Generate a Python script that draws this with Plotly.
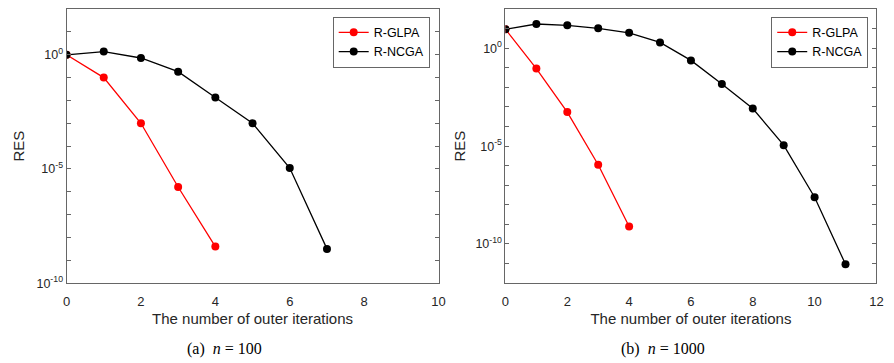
import plotly.graph_objects as go

# ---- data ----
iters_a = list(range(0, 5))
glpa_a_exp = [0.0, -1.0, -3.0, -5.79, -8.4]
iters_a_ncga = list(range(0, 8))
ncga_a_exp = [0.0, 0.14, -0.14, -0.74, -1.87, -3.0, -4.96, -8.5]

iters_b = list(range(0, 5))
glpa_b_exp = [0.97, -1.04, -3.26, -5.95, -9.11]
iters_b_ncga = list(range(0, 12))
ncga_b_exp = [0.97, 1.24, 1.17, 1.02, 0.79, 0.30, -0.62, -1.82, -3.08, -4.95, -7.61, -11.04]

glpa_a = [10 ** e for e in glpa_a_exp]
ncga_a = [10 ** e for e in ncga_a_exp]
glpa_b = [10 ** e for e in glpa_b_exp]
ncga_b = [10 ** e for e in ncga_b_exp]

series_names = ["R-GLPA", "R-NCGA"]
captions = ["(a)  <i>n</i> = 100", "(b)  <i>n</i> = 1000"]
xticks_a = [0, 2, 4, 6, 8, 10]
xticks_b = [0, 2, 4, 6, 8, 10, 12]
ylabel_exps = [-10, -5, 0]

W, H = 894, 363
AX = "#666666"
FONT = "Liberation Sans, Arial, sans-serif"

fig = go.Figure()

def add(x, y, color, name, xa, ya, legend):
    fig.add_trace(go.Scatter(
        x=x, y=y, mode="lines+markers", name=name,
        line=dict(color=color, width=1.3),
        marker=dict(color=color, size=8),
        xaxis=xa, yaxis=ya, legend=legend))

add(iters_a, glpa_a, "#ff0000", series_names[0], "x", "y", "legend")
add(iters_a_ncga, ncga_a, "#000000", series_names[1], "x", "y", "legend")
add(iters_b, glpa_b, "#ff0000", series_names[0], "x2", "y2", "legend2")
add(iters_b_ncga, ncga_b, "#000000", series_names[1], "x2", "y2", "legend2")

major_vals = [10.0 ** e for e in ylabel_exps]
major_txt = [f"10<sup>{e}</sup>" for e in ylabel_exps]

def minor_vals(lo, hi):
    return [10.0 ** e for e in range(lo, hi + 1) if e % 5 != 0]

xa_dom = [63.3 / W, 440 / W]
xb_dom = [507.7 / W, 883.3 / W]
y_dom = [1 - 288.7 / H, 1 - 9.3 / H]

common_axis = dict(showline=True, linecolor=AX, linewidth=1, mirror="ticks",
                   ticks="inside", ticklen=4, tickcolor=AX, showgrid=False,
                   zeroline=False, ticklabeloverflow="allow")
xfont = dict(family=FONT, size=13, color="#262626")
yfont = dict(family=FONT, size=12.5, color="#262626")
tfont = dict(family=FONT, size=15, color="#262626")

# x axes that carry labels (invisible outside ticks push labels down)
xlabel_axis = dict(showline=True, linecolor=AX, linewidth=1, mirror=True,
                   ticks="outside", ticklen=6, tickcolor="rgba(0,0,0,0)",
                   showgrid=False, zeroline=False, ticklabeloverflow="allow")
# overlay x axes that draw the inside ticks (bottom and top)
xtick_axis = dict(showline=False, ticks="inside", ticklen=4, tickcolor=AX, mirror="ticks",
                  showticklabels=False, showgrid=False, zeroline=False)

legend_common = dict(xanchor="right", yanchor="top",
                     bordercolor=AX, borderwidth=1, bgcolor="white",
                     font=dict(family=FONT, size=12.5, color="#000"),
                     tracegroupgap=0, itemwidth=30)

fig.update_layout(
    width=W, height=H, margin=dict(l=0, r=0, t=0, b=0),
    paper_bgcolor="white", plot_bgcolor="white",
    font=dict(family=FONT, color="#262626"),
    xaxis=dict(domain=xa_dom, range=[0, 10], tickvals=xticks_a, anchor="y",
               tickfont=xfont,
               title=dict(text="The number of outer iterations", font=tfont, standoff=5),
               **xlabel_axis),
    xaxis3=dict(overlaying="x", anchor="y", range=[0, 10], tickvals=xticks_a, **xtick_axis),
    yaxis=dict(domain=y_dom, type="log", range=[-10, 2], tickvals=major_vals, ticktext=major_txt,
               anchor="x", tickfont=yfont,
               minor=dict(tickvals=minor_vals(-10, 2), ticks="inside", ticklen=4, tickcolor=AX),
               title=dict(text="RES", font=tfont, standoff=8),
               **common_axis),
    xaxis2=dict(domain=xb_dom, range=[0, 12], tickvals=xticks_b, anchor="y2",
                tickfont=xfont,
                title=dict(text="The number of outer iterations", font=tfont, standoff=5),
                **xlabel_axis),
    xaxis4=dict(overlaying="x2", anchor="y2", range=[0, 12], tickvals=xticks_b, **xtick_axis),
    yaxis2=dict(domain=y_dom, type="log", range=[-12, 2], tickvals=major_vals, ticktext=major_txt,
                anchor="x2", tickfont=yfont,
                minor=dict(tickvals=minor_vals(-12, 2), ticks="inside", ticklen=4, tickcolor=AX),
                title=dict(text="RES", font=tfont, standoff=6),
                **common_axis),
    legend=dict(x=431 / W, y=1 - 17 / H, **legend_common),
    legend2=dict(x=875 / W, y=1 - 17 / H, **legend_common),
    showlegend=True,
)

for cx, cap in zip([223 / W, 667 / W], captions):
    fig.add_annotation(x=cx, y=1 - 356 / H, xref="paper", yref="paper", text=cap,
                       showarrow=False, xanchor="center", yanchor="middle",
                       font=dict(family="Liberation Serif, Times New Roman, serif", size=16, color="#000"))

fig.write_html("out.html", config={"displayModeBar": False},
               post_script="document.body.style.margin='0';")
